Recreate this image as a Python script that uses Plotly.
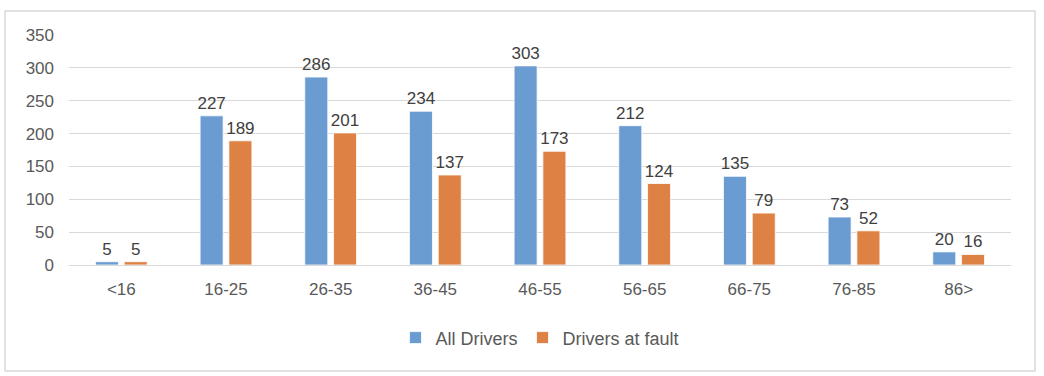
import plotly.graph_objects as go

categories = ["<16", "16-25", "26-35", "36-45", "46-55", "56-65", "66-75", "76-85", "86>"]
all_drivers = [5, 227, 286, 234, 303, 212, 135, 73, 20]
drivers_at_fault = [5, 189, 201, 137, 173, 124, 79, 52, 16]

FONT = "Liberation Sans"
TXT = "#404040"

fig = go.Figure()
fig.add_trace(go.Bar(
    x=categories, y=all_drivers, name="All Drivers",
    marker=dict(color="#6A9BD1", line=dict(color="white", width=0.8)),
    text=all_drivers, textposition="outside", cliponaxis=False,
    textfont=dict(family=FONT, size=17, color=TXT),
))
fig.add_trace(go.Bar(
    x=categories, y=drivers_at_fault, name="Drivers at fault",
    marker=dict(color="#DE8144", line=dict(color="white", width=0.8)),
    text=drivers_at_fault, textposition="outside", cliponaxis=False,
    textfont=dict(family=FONT, size=17, color=TXT),
))

fig.update_layout(
    width=1044, height=376,
    margin=dict(l=69, r=33, t=35, b=111),
    paper_bgcolor="white", plot_bgcolor="white",
    barmode="group", bargap=0.45, bargroupgap=0.2,
    uniformtext=dict(minsize=17, mode="show"),
    font=dict(family=FONT, size=17, color="#595959"),
    showlegend=True,
    legend=dict(orientation="h", x=0.5, xanchor="center", y=-0.317, yanchor="middle",
                font=dict(family=FONT, size=18, color="#595959"), traceorder="normal"),
    shapes=[dict(type="rect", xref="paper", yref="paper",
                 x0=-0.0679, x1=1.0255, y0=-0.4609, y1=1.1043,
                 line=dict(color="#D9D9D9", width=1.5), fillcolor="rgba(0,0,0,0)", layer="below")],
)
fig.update_yaxes(range=[0, 350], dtick=50, showgrid=True, gridcolor="#D9D9D9", gridwidth=1.3,
                 zeroline=True, zerolinecolor="#D9D9D9", zerolinewidth=1.3,
                 showline=False, ticks="", ticklabelstandoff=14,
                 tickfont=dict(family=FONT, size=17, color="#595959"))
fig.update_xaxes(showgrid=False, showline=False, ticks="", ticklabelstandoff=12,
                 tickfont=dict(family=FONT, size=17, color="#595959"))

fig.write_html("out.html", config={"displayModeBar": False},
               post_script="document.body.style.margin='0';document.body.style.overflow='hidden';")
